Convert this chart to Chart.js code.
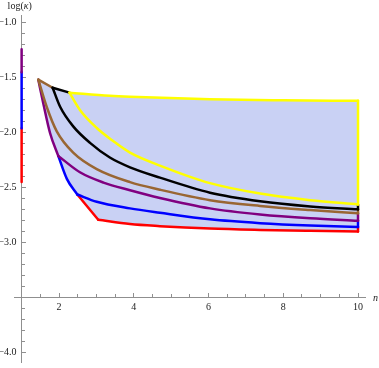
<!DOCTYPE html>
<html>
<head>
<meta charset="utf-8">
<script src="https://cdn.jsdelivr.net/npm/chart.js@4.4.1/dist/chart.umd.min.js"></script>
<style>
  html, body { margin: 0; padding: 0; background: #fff; }
  #wrap { width: 379px; height: 368px; }
</style>
</head>
<body>
<div id="wrap"><canvas id="chart" width="379" height="368"></canvas></div>
<script>
// upper edge of the shaded region: brown piece, black piece, then yellow top
const topX = [1.446, 1.83, 2.28, 3.36, 3.90, 6.04, 8.0, 10];
const topY = [-1.517, -1.591, -1.636, -1.665, -1.674, -1.696, -1.705, -1.71];

// left edge of the region: purple piece, blue piece, red piece
const leftX = [1.446, 1.58, 1.76, 1.98, 2.21, 2.49, 3.05];
const leftY = [-1.517, -1.734, -2.003, -2.212, -2.421, -2.564, -2.794];

// the curves running out to n = 10
const yellowX = [2.28, 2.56, 3.01, 3.45, 3.90, 4.70, 6.04, 7.38, 8.72, 10];
const yellowY = [-1.636, -1.794, -1.958, -2.077, -2.182, -2.30, -2.46, -2.555, -2.615, -2.654];
const blackX = [1.83, 2.03, 2.38, 2.83, 3.36, 3.90, 4.70, 6.04, 7.38, 8.72, 10];
const blackY = [-1.591, -1.764, -1.943, -2.093, -2.227, -2.316, -2.41, -2.547, -2.625, -2.672, -2.699];
const brownX = [1.446, 1.67, 1.94, 2.38, 3.01, 3.90, 4.70, 6.04, 7.38, 8.72, 10];
const brownY = [-1.517, -1.764, -1.988, -2.182, -2.332, -2.451, -2.52, -2.615, -2.668, -2.705, -2.734];
const purpleX = [1.98, 2.56, 3.19, 3.90, 4.70, 6.04, 7.38, 8.72, 10];
const purpleY = [-2.212, -2.361, -2.455, -2.525, -2.595, -2.69, -2.745, -2.78, -2.803];
const blueX = [2.49, 3.01, 3.90, 4.70, 6.04, 7.38, 8.72, 10];
const blueY = [-2.564, -2.630, -2.69, -2.73, -2.79, -2.825, -2.847, -2.86];
const redX = [3.05, 3.90, 4.70, 6.04, 7.38, 8.72, 10];
const redY = [-2.794, -2.833, -2.852, -2.874, -2.886, -2.894, -2.90];

// short pieces drawn on the vertical axis at n = 1 (purple, blue, red)
const stripY = [-1.24, -1.45, -1.96, -2.45];

const COLORS = {
    yellow: '#ffff00',
    black: '#000000',
    brown: 'rgb(153,102,51)',
    purple: 'rgb(128,0,128)',
    blue: '#0000ff',
    red: '#ff0000',
    fill: 'rgb(201,209,244)',
    axis: '#8f8f8f',
    text: '#222'
};
const FONT = '"Liberation Serif", "DejaVu Serif", serif';

function pts(xs, ys) {
    return xs.map((x, i) => ({x: x, y: ys[i]}));
}
function last(a) { return a[a.length - 1]; }

function line(data, color, smooth) {
    const ds = {
        data: data,
        borderColor: color,
        borderWidth: 2.5,
        pointRadius: 0,
        tension: 0,
        fill: false,
        clip: false,
        borderJoinStyle: 'round',
        borderCapStyle: 'round'
    };
    if (smooth) ds.cubicInterpolationMode = 'monotone';
    return ds;
}
function vertical(x, y0, y1, color) {
    return line(pts([x, x], [y0, y1]), color, false);
}

// shaded region: lower edge (left side + red curve) filled up to the upper edge
const upperEdge = { data: pts(topX, topY), borderWidth: 0, pointRadius: 0, tension: 0, fill: false };
const lowerEdge = {
    data: pts(leftX, leftY).concat(pts(redX.slice(1), redY.slice(1))),
    borderWidth: 0, pointRadius: 0, tension: 0,
    fill: 0, backgroundColor: COLORS.fill
};

const datasets = [
    upperEdge,
    lowerEdge,
    // yellow: top, lower curve, right side
    line(pts(topX.slice(2), topY.slice(2)), COLORS.yellow, true),
    line(pts(yellowX, yellowY), COLORS.yellow, true),
    vertical(10, last(topY), last(yellowY), COLORS.yellow),
    // black
    line(pts(topX.slice(1, 3), topY.slice(1, 3)), COLORS.black, false),
    line(pts(blackX, blackY), COLORS.black, true),
    vertical(10, last(yellowY), last(blackY), COLORS.black),
    // brown
    line(pts(topX.slice(0, 2), topY.slice(0, 2)), COLORS.brown, false),
    line(pts(brownX, brownY), COLORS.brown, true),
    vertical(10, last(blackY), last(brownY), COLORS.brown),
    // purple
    line(pts(leftX.slice(0, 4), leftY.slice(0, 4)), COLORS.purple, true),
    line(pts(purpleX, purpleY), COLORS.purple, true),
    vertical(10, last(brownY), last(purpleY), COLORS.purple),
    // blue
    line(pts(leftX.slice(3, 6), leftY.slice(3, 6)), COLORS.blue, true),
    line(pts(blueX, blueY), COLORS.blue, true),
    vertical(10, last(purpleY), last(blueY), COLORS.blue),
    // red
    line(pts(leftX.slice(5, 7), leftY.slice(5, 7)), COLORS.red, false),
    line(pts(redX, redY), COLORS.red, true),
    vertical(10, last(blueY), last(redY), COLORS.red),
    // pieces on the n = 1 axis
    vertical(1, stripY[0], stripY[1], COLORS.purple),
    vertical(1, stripY[1], stripY[2], COLORS.blue),
    vertical(1, stripY[2], stripY[3], COLORS.red)
];

const axisTitles = {
    id: 'axisTitles',
    afterDraw(chart) {
        const {ctx, scales: {x, y}} = chart;
        ctx.save();
        ctx.fillStyle = COLORS.text;
        ctx.textBaseline = 'middle';
        let tx = x.getPixelForValue(1) - 14;
        ctx.font = '10px ' + FONT;
        ctx.fillText('log(', tx, 6);
        tx += ctx.measureText('log(').width;
        ctx.font = 'italic 10px ' + FONT;
        ctx.fillText('\u03ba', tx, 6);
        tx += ctx.measureText('\u03ba').width;
        ctx.font = '10px ' + FONT;
        ctx.fillText(')', tx, 6);
        ctx.font = 'italic 10px ' + FONT;
        ctx.fillText('n', x.right + 8, y.getPixelForValue(-3.5) + 1);
        ctx.restore();
    }
};

function axisScale(axis, at, step, tick, labels) {
    const s = {
        type: 'linear',
        axis: axis,
        position: at,
        ticks: {
            stepSize: step,
            includeBounds: false,
            autoSkip: false,
            display: !!labels,
            color: COLORS.text,
            font: { family: FONT, size: 10 },
            padding: 0
        },
        grid: { drawOnChartArea: false, drawTicks: true, tickLength: tick, color: COLORS.axis, lineWidth: 1 },
        border: { display: !!labels, color: COLORS.axis, width: 1 }
    };
    if (labels) s.ticks.callback = labels;
    return s;
}

const xRange = { min: 0.796, max: 10.187 };
const yRange = { min: -4.0895, max: -0.9284 };

const xScale = Object.assign(axisScale('x', {y: -3.5}, 2, -5, v => String(v)), xRange);
xScale.ticks.padding = 9;
const xMinor = Object.assign(axisScale('x', {y: -3.5}, 0.5, -3, null), xRange);
const yScale = Object.assign(axisScale('y', {x: 1}, 0.5, -5,
    v => Math.abs(v + 3.5) < 1e-6 ? '' : '\u2212' + Math.abs(v).toFixed(1) + '\u2002'), yRange);
const yMinor = Object.assign(axisScale('y', {x: 1}, 0.1, -3, null), yRange);

new Chart(document.getElementById('chart'), {
    type: 'line',
    data: { datasets: datasets },
    plugins: [axisTitles],
    options: {
        responsive: false,
        animation: false,
        layout: { padding: { left: 14, right: 14, top: 15, bottom: 0 } },
        plugins: {
            legend: { display: false },
            tooltip: { enabled: false },
            filler: { drawTime: 'beforeDatasetsDraw' }
        },
        scales: { x: xScale, xm: xMinor, y: yScale, ym: yMinor }
    }
});
</script>
</body>
</html>
